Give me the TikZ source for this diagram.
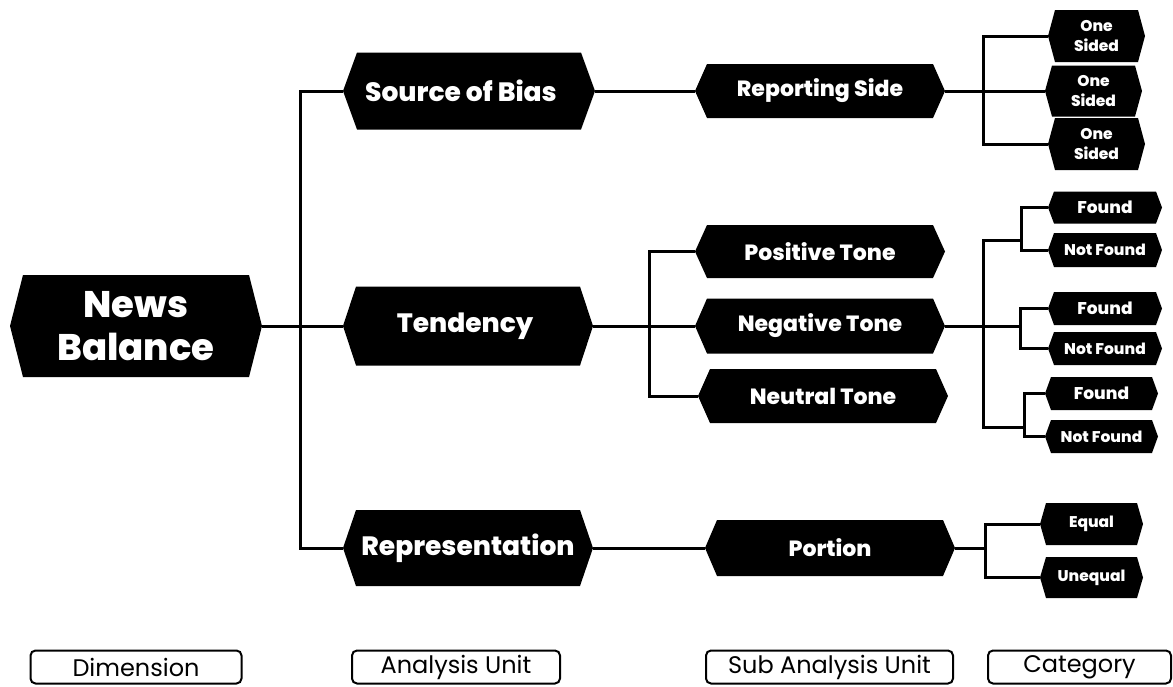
\documentclass[tikz,border=0pt]{standalone}
\usepackage{fontspec}
\setmainfont{Poppins}
\IfFontExistsTF{Poppins ExtraBold}{\newfontfamily\heavyfont{Poppins ExtraBold}}{\newcommand\heavyfont{\bfseries}}
\begin{document}
\begin{tikzpicture}[x=1pt,y=-1pt,
  conn/.style={line width=3pt, draw=black},
  hexbox/.style n args={3}{shape=rectangle, minimum width=#1, minimum height=#2, inner sep=0pt,
    text=white, align=center,
    path picture={\fill[black] (path picture bounding box.west)
      -- ([xshift=#3]path picture bounding box.north west)
      -- ([xshift=-#3]path picture bounding box.north east)
      -- (path picture bounding box.east)
      -- ([xshift=-#3]path picture bounding box.south east)
      -- ([xshift=#3]path picture bounding box.south west) -- cycle;}},
  bigtxt/.style={font=\fontsize{37}{43}\selectfont\heavyfont},
  unittxt/.style={font=\fontsize{26.5}{29}\selectfont\heavyfont},
  subtxt/.style={font=\fontsize{22}{25}\selectfont\heavyfont},
  cattxt/.style={font=\fontsize{15.5}{20}\selectfont\heavyfont},
  foundtxt/.style={font=\fontsize{17}{19}\selectfont\heavyfont},
  nftxt/.style={font=\fontsize{15.5}{19}\selectfont\heavyfont},
  legendbox/.style={draw=black, line width=2pt, rounded corners=5pt, minimum height=33pt,
    inner sep=0pt, font=\fontsize{24}{26}\selectfont}
]
\useasboundingbox (0,0) rectangle (1173,686);
\fill[white] (0,0) rectangle (1173,686);

% Dimension
\node[hexbox={252pt}{102pt}{13pt}, bigtxt] (news) at (136,326) {News\\Balance};
% Analysis units
\node[hexbox={252pt}{77pt}{14pt}, unittxt] (src) at (469,91) {\hspace*{-16pt}Source of Bias};
\node[hexbox={250pt}{79pt}{13pt}, unittxt] (tend) at (468,326) {\hspace*{-6pt}Tendency};
\node[hexbox={250pt}{76pt}{13pt}, unittxt] (repr) at (468,548) {Representation};
% Sub analysis units
\node[hexbox={250pt}{54pt}{12pt}, subtxt] (rep) at (820,91) {Reporting Side};
\node[hexbox={250pt}{53pt}{12pt}, subtxt] (pos) at (820,251.5) {Positive Tone};
\node[hexbox={250pt}{55pt}{12pt}, subtxt] (neg) at (820,326) {Negative Tone};
\node[hexbox={250pt}{54pt}{12pt}, subtxt] (neu) at (823,396) {Neutral Tone};
\node[hexbox={250pt}{56pt}{12pt}, subtxt] (por) at (830,548) {Portion};
% Categories
\node[hexbox={97pt}{52pt}{7pt}, cattxt] (os1) at (1096.5,36) {One\\Sided};
\node[hexbox={97pt}{51pt}{7pt}, cattxt] (os2) at (1093.5,91) {One\\Sided};
\node[hexbox={97pt}{52pt}{7pt}, cattxt] (os3) at (1096.5,144) {One\\Sided};
\node[hexbox={114pt}{32pt}{6pt}, foundtxt] (f1) at (1105,207.5) {Found};
\node[hexbox={114pt}{34pt}{6pt}, nftxt] (nf1) at (1105,250) {Not Found};
\node[hexbox={114pt}{33pt}{6pt}, foundtxt] (f2) at (1105,308.5) {Found};
\node[hexbox={114pt}{33pt}{6pt}, nftxt] (nf2) at (1105,348.5) {Not Found};
\node[hexbox={113pt}{33pt}{6pt}, foundtxt] (f3) at (1101.5,393.5) {Found};
\node[hexbox={113pt}{33pt}{6pt}, nftxt] (nf3) at (1101.5,436.5) {Not Found};
\node[hexbox={103pt}{42pt}{6pt}, cattxt] (eq) at (1091.5,524) {Equal};
\node[hexbox={103pt}{41pt}{6pt}, cattxt] (uneq) at (1091.5,577.5) {Unequal};

% Legend
\node[legendbox, minimum width=211pt] (ldim) at (136,667) {Dimension};
\node[legendbox, minimum width=208pt] (lau) at (456,667) {Analysis Unit};
\node[legendbox, minimum width=247pt] (lsau) at (829.5,667) {Sub Analysis Unit};
\node[legendbox, minimum width=183pt] (lcat) at (1079.5,667) {Category};

% Connectors
\coordinate (j1) at (300,326);
\coordinate (j2) at (649,326);
\coordinate (j3) at (983,91);
\coordinate (j4a) at (983,240);
\coordinate (j4c) at (983,427);
\coordinate (k1) at (1021,240);
\coordinate (k2) at (1020,326);
\coordinate (k3) at (1024,427);
\coordinate (j5) at (985,548);

\draw[conn] (news.east) -- (tend.west);
\draw[conn] (src.west) -| (j1) |- (repr.west);
\draw[conn] (src.east) -- (rep.west);
\draw[conn] (repr.east) -- (por.west);
\draw[conn] (tend.east) -- (j2) -- (neg.west);
\draw[conn] (pos.west) -| (j2) |- (neu.west);
\draw[conn] (rep.east) -- (os2.west);
\draw[conn] (os1.west) -| (j3) |- (os3.west);
\draw[conn] (neg.east) -- (k2);
\draw[conn] (k1) -- (j4a) -- (j4c) -- (k3);
\draw[conn] (f1.west) -| (k1) |- (nf1.west);
\draw[conn] (f2.west) -| (k2) |- (nf2.west);
\draw[conn] (f3.west) -| (k3) |- (nf3.west);
\draw[conn] (por.east) -- (j5);
\draw[conn] (eq.west) -| (j5) |- (uneq.west);
\end{tikzpicture}
\end{document}
